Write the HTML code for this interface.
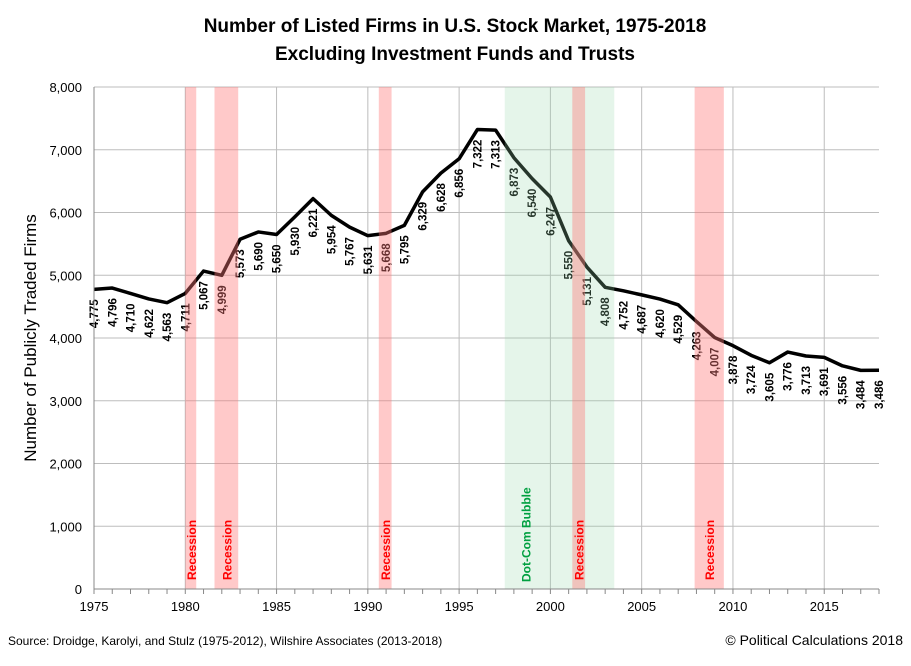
<!DOCTYPE html>
<html><head><meta charset="utf-8"><style>
body{margin:0;background:#fff;font-family:"Liberation Sans",sans-serif}
svg text{font-family:"Liberation Sans",sans-serif}
</style></head><body>
<svg id="c" width="911" height="661" xmlns="http://www.w3.org/2000/svg">
<text x="455" y="32" text-anchor="middle" font-size="19" font-weight="bold">Number of Listed Firms in U.S. Stock Market, 1975-2018</text>
<text x="455" y="60" text-anchor="middle" font-size="19" font-weight="bold">Excluding Investment Funds and Trusts</text>
<text transform="translate(36,338) rotate(-90)" text-anchor="middle" font-size="17">Number of Publicly Traded Firms</text>
<text x="8" y="645" font-size="12">Source: Droidge, Karolyi, and Stulz (1975-2012), Wilshire Associates (2013-2018)</text>
<text x="903" y="645" text-anchor="end" font-size="14">© Political Calculations 2018</text>
<g id="grid"></g><g id="line"></g><g id="bands"></g><g id="axes"></g>
</svg>
<script>
const years=[1975,1976,1977,1978,1979,1980,1981,1982,1983,1984,1985,1986,1987,1988,1989,1990,1991,1992,1993,1994,1995,1996,1997,1998,1999,2000,2001,2002,2003,2004,2005,2006,2007,2008,2009,2010,2011,2012,2013,2014,2015,2016,2017,2018];
const firms=[4775,4796,4710,4622,4563,4711,5067,4999,5573,5690,5650,5930,6221,5954,5767,5631,5668,5795,6329,6628,6856,7322,7313,6873,6540,6247,5550,5131,4808,4752,4687,4620,4529,4263,4007,3878,3724,3605,3776,3713,3691,3556,3484,3486];
const yTicks=[0,1000,2000,3000,4000,5000,6000,7000,8000];
const xTicks=[1975,1980,1985,1990,1995,2000,2005,2010,2015];
const recessions=[[1980.0,1980.6],[1981.6,1982.9],[1990.6,1991.3],[2001.2,2001.9],[2007.9,2009.5]];
const bubble=[1997.5,2003.5];
const NS="http://www.w3.org/2000/svg";
const X=v=>94+(v-1975)*(785/43), Y=v=>589-v*(502/8000);
function mk(t,a,p){const e=document.createElementNS(NS,t);for(const k in a)e.setAttribute(k,a[k]);p.appendChild(e);return e;}
const grid=document.getElementById('grid'),line=document.getElementById('line'),bands=document.getElementById('bands'),axes=document.getElementById('axes');
yTicks.forEach(v=>{const l=mk('line',{x1:94,x2:879,y1:Y(v),y2:Y(v),stroke:'#bdbdbd','stroke-width':1},grid);

const t=mk('text',{x:82,y:Y(v)+5,'text-anchor':'end','font-size':13},axes);t.textContent=v.toLocaleString('en-US');
});
xTicks.forEach(v=>{if(v>1975){const l=mk('line',{x1:X(v),x2:X(v),y1:Y(8000),y2:589,stroke:'#bdbdbd','stroke-width':1},grid);
}
const t=mk('text',{x:X(v),y:611,'text-anchor':'middle','font-size':13},axes);t.textContent=v;
});
for(let y=1975;y<=2018;y++){mk('line',{x1:X(y),x2:X(y),y1:589,y2:594,stroke:'#888'},axes);}
mk('line',{x1:94,x2:879,y1:589,y2:589,stroke:'#888'},axes);
mk('line',{x1:94,x2:94,y1:Y(8000),y2:594,stroke:'#888'},axes);
const p=mk('polyline',{points:years.map((y,i)=>X(y)+','+Y(firms[i])).join(' '),fill:'none',stroke:'#000','stroke-width':3.5,'stroke-linejoin':'round'},line);

years.forEach((y,i)=>{const x=X(y)+4,yy=Y(firms[i])+10;
const t=mk('text',{transform:`translate(${x},${yy}) rotate(-90)`,'text-anchor':'end','font-size':11.5,'font-weight':'bold'},line);
t.textContent=firms[i].toLocaleString('en-US');
});
const b=mk('rect',{x:X(bubble[0]),y:Y(8000),width:X(bubble[1])-X(bubble[0]),height:589-Y(8000),fill:'rgb(150,215,170)','fill-opacity':0.25},bands);

const bt=mk('text',{transform:`translate(${(X(bubble[0])+X(bubble[1]))/2-29},582) rotate(-90)`,'font-size':12,'font-weight':'bold',fill:'#00a040'},bands);
bt.textContent='Dot-Com Bubble';
recessions.forEach(r=>{const e=mk('rect',{x:X(r[0]),y:Y(8000),width:X(r[1])-X(r[0]),height:589-Y(8000),fill:'rgb(255,120,120)','fill-opacity':0.4},bands);

const t=mk('text',{transform:`translate(${(X(r[0])+X(r[1]))/2+5},580) rotate(-90)`,'font-size':12,'font-weight':'bold',fill:'#ff0000'},bands);
t.textContent='Recession';});
</script>
</body></html>
